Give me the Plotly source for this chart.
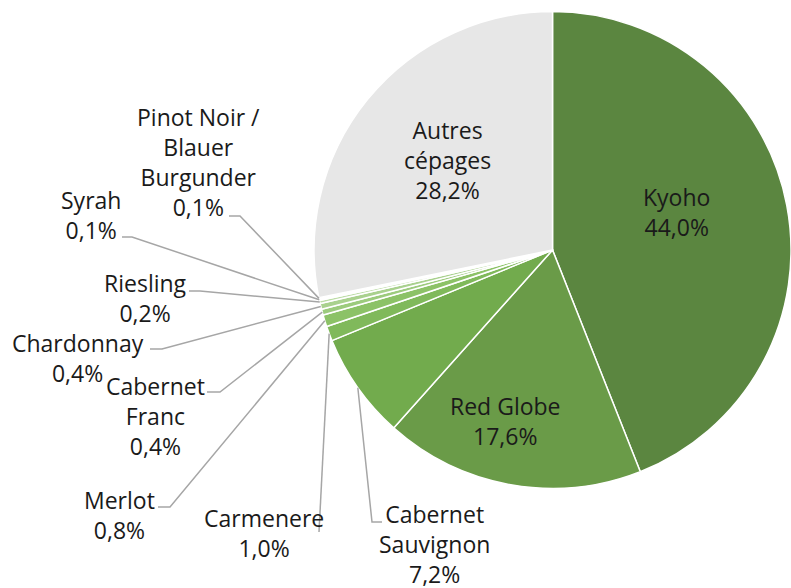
import plotly.graph_objects as go
import math

# ---- data ----
labels = ["Kyoho", "Red Globe", "Cabernet Sauvignon", "Carmenere", "Merlot",
          "Cabernet Franc", "Chardonnay", "Riesling", "Syrah",
          "Pinot Noir / Blauer Burgunder", "Autres cépages"]
values = [44.0, 17.6, 7.2, 1.0, 0.8, 0.4, 0.4, 0.2, 0.1, 0.1, 28.2]
label_text = ["Kyoho", "Red Globe", "Cabernet<br>Sauvignon", "Carmenere", "Merlot",
              "Cabernet<br>Franc", "Chardonnay", "Riesling", "Syrah",
              "Pinot Noir /<br>Blauer<br>Burgunder", "Autres<br>cépages"]
colors = ["#5b8640", "#6a9b48", "#72ab4d", "#80b95b", "#8cc267", "#9ccb7d",
          "#a9d18e", "#bcdca6", "#cfe6bf", "#e2f0d9", "#e7e7e7"]

# ---- layout constants (pixels) ----
W, H = 791, 588
dom_x = [0.397, 1.0]
cy_px = 250.0
wx = (dom_x[1] - dom_x[0]) * W
R = wx / 2.0
cx_px = (dom_x[0] + dom_x[1]) / 2 * W
dom_y = [1 - (cy_px + R) / H, 1 - (cy_px - R) / H]

# label centers (px) and leader line [end, elbow] (px); None = inside label
label_pos = [(676, 212), (505, 421), (434, 544), (264, 533), (119, 515),
             (155, 416), (78, 358), (145, 298), (91, 215), (199, 162), (447, 160)]
leader = [None, None, [(382, 522), (372, 522)], [(319, 532), (319, 532)],
          [(158, 507), (170, 507)], [(207, 392), (220, 392)],
          [(150, 349), (162, 349)], [(189, 291), (200, 291)],
          [(122, 237), (132, 237)], [(229, 216), (240, 216)], None]


def fmt(v):
    return f"{v:.1f}".replace(".", ",") + "%"


fig = go.Figure(go.Pie(
    labels=labels, values=values, sort=False, direction="clockwise", rotation=0,
    marker=dict(colors=colors, line=dict(color="white", width=1.5)),
    textinfo="none", hoverinfo="label+percent", showlegend=False,
    domain=dict(x=dom_x, y=dom_y),
))


def px2p(x, y):
    return x / W, 1 - y / H


total = sum(values)
cum = 0.0
shapes = []
annotations = []
for i, v in enumerate(values):
    mid = (cum + v / 2) / total * 2 * math.pi
    cum += v
    lx, ly = label_pos[i]
    ax, ay = px2p(lx, ly)
    annotations.append(dict(
        x=ax, y=ay, xref="paper", yref="paper", xanchor="center", yanchor="middle",
        align="center", showarrow=False,
        text=label_text[i] + "<br>" + fmt(v),
        font=dict(family="Open Sans", size=23, color="#1a1a1a"),
    ))
    if leader[i] is not None:
        sx = cx_px + R * math.sin(mid)
        sy = cy_px - R * math.cos(mid)
        (ex, ey), (bx, by) = leader[i]
        pts = [px2p(ex, ey), px2p(bx, by), px2p(sx, sy)]
        path = "M {} {} L {} {} L {} {}".format(pts[0][0], pts[0][1], pts[1][0], pts[1][1],
                                             pts[2][0], pts[2][1])
        shapes.append(dict(type="path", path=path, xref="paper", yref="paper",
                           line=dict(color="#a6a6a6", width=1.5)))

fig.update_layout(
    width=W, height=H, margin=dict(l=0, r=0, t=0, b=0),
    paper_bgcolor="white", plot_bgcolor="white",
    shapes=shapes, annotations=annotations,
)
fig.write_html("out.html", config={"displayModeBar": False},
               post_script="document.body.style.margin='0';document.body.style.overflow='hidden';")
